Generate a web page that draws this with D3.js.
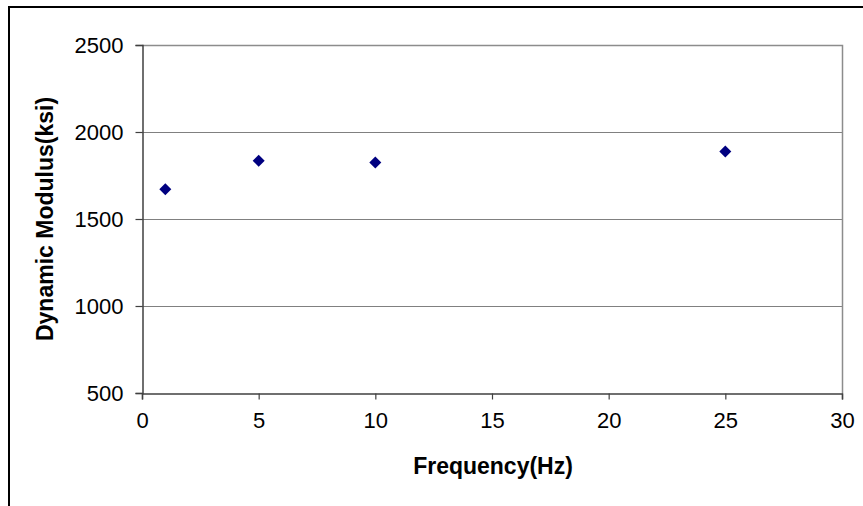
<!DOCTYPE html>
<html>
<head>
<meta charset="utf-8">
<script src="https://cdn.jsdelivr.net/npm/d3@7"></script>
<style>
  html, body { margin: 0; padding: 0; background: #fff; }
  svg { display: block; }
  text { font-family: Arial, "Liberation Sans", sans-serif; }
</style>
</head>
<body>
<svg id="chart" width="863" height="506"></svg>
<script>
const frequency = [1, 5, 10, 25];
const modulus = [1671, 1835, 1824, 1888];
const xTicks = [0, 5, 10, 15, 20, 25, 30];
const yTicks = [500, 1000, 1500, 2000, 2500];
const xLabel = "Frequency(Hz)";
const yLabel = "Dynamic Modulus(ksi)";

const svg = d3.select("#chart");
const W = 863, H = 506;
const m = { left: 142, top: 45, right: 842, bottom: 393 };

svg.append("rect").attr("width", W).attr("height", H).attr("fill", "#fff");
// outer chart border
svg.append("rect")
  .attr("x", 9).attr("y", 7).attr("width", W + 20).attr("height", H + 20)
  .attr("fill", "none").attr("stroke", "#000").attr("stroke-width", 2);

const x = d3.scaleLinear().domain([0, 30]).range([m.left, m.right]);
const y = d3.scaleLinear().domain([500, 2500]).range([m.bottom, m.top]);

// gridlines
svg.append("g").selectAll("line").data(yTicks.filter(v => v > 500 && v < 2500)).join("line")
  .attr("x1", m.left).attr("x2", m.right)
  .attr("y1", d => Math.round(y(d)) + 0.5).attr("y2", d => Math.round(y(d)) + 0.5)
  .attr("stroke", "#808080").attr("stroke-width", 1);

// plot area top/right border
svg.append("path")
  .attr("d", `M${m.left},${m.top + 0.5}H${m.right + 0.5}V${m.bottom}`)
  .attr("fill", "none").attr("stroke", "#8c8c8c").attr("stroke-width", 1.5);

// axes
const yAxis = d3.axisLeft(y).tickValues(yTicks).tickSize(7).tickPadding(12).tickFormat(d3.format("d"));
const xAxis = d3.axisBottom(x).tickValues(xTicks).tickSize(6).tickPadding(14).tickFormat(d3.format("d"));

const gy = svg.append("g").attr("transform", `translate(${m.left + 0.5},0)`).call(yAxis);
const gx = svg.append("g").attr("transform", `translate(0,${m.bottom + 0.5})`).call(xAxis);
[gx, gy].forEach(g => {
  g.select(".domain").attr("stroke", "#404040").attr("stroke-width", 1.5);
  g.selectAll(".tick line").attr("stroke", "#404040").attr("stroke-width", 1.2);
  g.selectAll(".tick text").attr("fill", "#000").style("font-size", "22px")
    .style("font-family", "Arial, 'Liberation Sans', sans-serif");
});
gy.selectAll(".tick text").attr("dy", "0.36em");
gx.selectAll(".tick text").attr("dy", "0.68em");

// points (diamonds)
const diamond = d3.symbol().type(d3.symbolSquare).size(72);
svg.append("g").selectAll("path").data(frequency.map((f, i) => [f, modulus[i]])).join("path")
  .attr("d", diamond)
  .attr("transform", d => `translate(${x(d[0])},${y(d[1])}) rotate(45)`)
  .attr("fill", "#000080");

// axis labels
svg.append("text")
  .attr("x", (m.left + m.right) / 2 + 1).attr("y", 474)
  .attr("text-anchor", "middle")
  .style("font-size", "23px").style("font-weight", "bold")
  .text(xLabel);

svg.append("text")
  .attr("transform", `translate(53,${(m.top + m.bottom) / 2}) rotate(-90)`)
  .attr("text-anchor", "middle")
  .style("font-size", "23px").style("font-weight", "bold")
  .text(yLabel);
</script>
</body>
</html>
